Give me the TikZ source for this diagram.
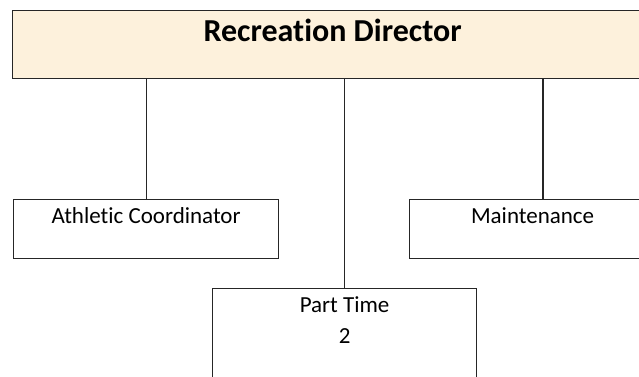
\documentclass[tikz,border=0pt]{standalone}
\usepackage{fontspec}
\setmainfont{Carlito}[Ligatures=NoCommon]
\usepackage{tikz}
\definecolor{dirfill}{HTML}{FDF1DC}

\begin{document}
\begin{tikzpicture}[x=1pt,y=-1pt,
		box/.style={draw=black!85, line width=1.2pt, fill=white, inner sep=0pt,
			anchor=north west, align=center, font=\fontsize{23}{31}\selectfont},
		link/.style={draw=black!85, line width=1.1pt}]
				\useasboundingbox (0,0) rectangle (639,376);
				
				% top
				\node[box, fill=dirfill, minimum width=640pt, text height=31pt, text depth=37pt,
					font=\fontsize{32}{36}\selectfont\bfseries] (dir) at (12,10) {Recreation Director};
				
				% staff
				\node[box, minimum width=265pt, text height=24pt, text depth=35pt] (ath) at (13,199) {Athletic Coordinator};
				\node[box, minimum width=246pt, text height=24pt, text depth=35pt] (maint) at (409,199) {Maintenance};
				\node[box, minimum width=264pt, text height=55pt, text depth=60pt] (part) at (212,288) {Part Time\\2};
				
				\foreach \n in {ath, part}{
					\draw[link] (dir.south -| \n.north) -- (\n.north);
				}
				\draw[link] (dir.south -| 543,0) -- (maint.north -| 543,0);
\end{tikzpicture}
\end{document}
